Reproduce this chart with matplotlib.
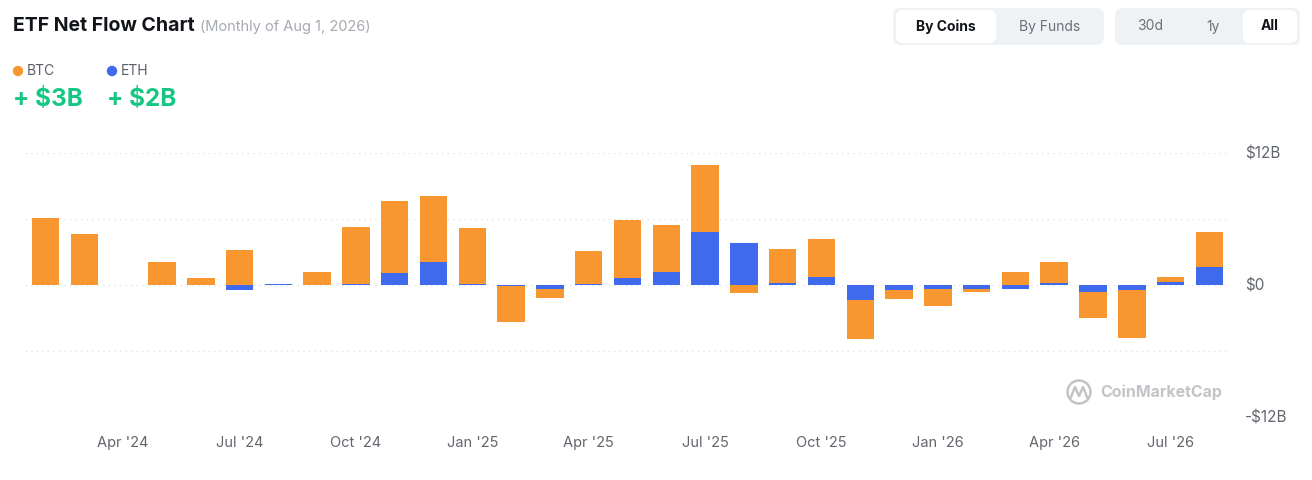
import pandas as pd
import matplotlib
matplotlib.use("Agg")
import matplotlib.pyplot as plt
from matplotlib.patches import FancyBboxPatch, Circle

plt.rcParams['font.family'] = ['Inter', 'DejaVu Sans']

# monthly net flows, $B (Feb '24 .. Aug '26)
months = pd.date_range('2024-02-01', periods=31, freq='MS')
btc = [6.1, 4.6, 0.0, 2.05, 0.6, 3.15, 0.0, 1.15, 5.16, 6.53, 5.99,
       5.07, -3.26, -0.8, 2.96, 5.26, 4.34, 6.09, -0.7, 3.1, 3.43,
       -3.54, -0.76, -1.56, -0.27, 1.16, 1.84, -2.42, -4.31, 0.45, 3.18]
eth = [0.0, 0.0, 0.0, 0.0, 0.0, -0.46, 0.12, 0.0, 0.1, 1.07, 2.06,
       0.1, -0.1, -0.37, 0.1, 0.61, 1.16, 4.86, 3.82, 0.2, 0.76,
       -1.38, -0.49, -0.37, -0.34, -0.34, 0.21, -0.61, -0.49, 0.28, 1.65]
tick_labels = ["Apr '24", "Jul '24", "Oct '24", "Jan '25", "Apr '25", "Jul '25",
               "Oct '25", "Jan '26", "Apr '26", "Jul '26"]
y_ticks = [-12, 0, 12]
y_tick_labels = ["-$12B", "$0", "$12B"]

BTC_C = '#F8972F'
ETH_C = '#3F6AEE'
GREEN = '#16C784'

fig = plt.figure(figsize=(13.12, 4.8), dpi=100)

# chart area
ax = fig.add_axes([25 / 1312, 1 - 417 / 480, 1205 / 1312, 264 / 480])
x = list(range(len(months)))
eth_bottom = [0] * len(x)
btc_bottom = [e if (e * b > 0) else 0 for e, b in zip(eth, btc)]
ax.bar(x, eth, width=0.71, bottom=eth_bottom, color=ETH_C, zorder=3)
ax.bar(x, btc, width=0.71, bottom=btc_bottom, color=BTC_C, zorder=3)

ax.set_xlim(-0.53, len(x) - 0.47)
ax.set_ylim(-12, 12)
for g in [-12, -6, 0, 6, 12]:
    ax.axhline(g, color='#e2e4e8', lw=1, ls=(0, (1, 3)), zorder=1)

tick_pos = [i for i, m in enumerate(months) if m.month in (1, 4, 7, 10)]
ax.set_xticks(tick_pos)
ax.set_xticklabels(tick_labels, fontsize=10.5, color='#62666d')
ax.yaxis.tick_right()
ax.set_yticks(y_ticks)
ax.set_yticklabels(y_tick_labels, fontsize=11, color='#62666d')
ax.tick_params(length=0)
ax.tick_params(axis='x', pad=14)
ax.tick_params(axis='y', pad=11)
for s in ax.spines.values():
    s.set_visible(False)

# header / overlay in pixel coordinates
ov = fig.add_axes([0, 0, 1, 1], zorder=5)
ov.set_xlim(0, 1312)
ov.set_ylim(480, 0)
ov.axis('off')

ov.text(13, 26, "ETF Net Flow Chart", fontsize=14, fontweight='bold',
        color='#111418', va='center', ha='left')
ov.text(200, 27, "(Monthly of Aug 1, 2026)", fontsize=10.5, color='#a6aab1',
        va='center', ha='left')

ov.add_patch(Circle((18, 71), 4.5, color=BTC_C))
ov.text(27, 71, "BTC", fontsize=10, color='#5a5e66', va='center')
ov.add_patch(Circle((112, 71), 4.5, color=ETH_C))
ov.text(121, 71, "ETH", fontsize=10, color='#5a5e66', va='center')
ov.text(13, 100, "+ $3B", fontsize=17.5, fontweight='bold', color=GREEN, va='center')
ov.text(107, 100, "+ $2B", fontsize=17.5, fontweight='bold', color=GREEN, va='center')

# toggle buttons
def pill(x0, y0, w, h, fc, ec='none'):
    ov.add_patch(FancyBboxPatch((x0, y0), w, h, boxstyle="round,pad=0,rounding_size=7",
                                fc=fc, ec=ec, lw=0.8))

pill(893, 8, 211, 37, '#eff2f5')
pill(896, 10, 100, 33, 'white')
ov.text(946, 26.5, "By Coins", fontsize=10, fontweight='bold', color='#111418',
        ha='center', va='center')
ov.text(1050, 26.5, "By Funds", fontsize=10, color='#6b7079', ha='center', va='center')

pill(1115, 8, 185, 37, '#eff2f5')
pill(1243, 10, 54, 33, 'white')
ov.text(1150, 26.5, "30d", fontsize=10, color='#6b7079', ha='center', va='center')
ov.text(1213, 26.5, "1y", fontsize=10, color='#6b7079', ha='center', va='center')
ov.text(1270, 26.5, "All", fontsize=10, fontweight='bold', color='#111418',
        ha='center', va='center')

# watermark
ov.add_patch(Circle((1079, 392), 11.5, fill=False, ec='#c2c4c8', lw=1.8))
ov.plot([1071, 1075, 1079, 1083, 1087], [397, 387, 396, 387, 397],
        color='#c2c4c8', lw=1.8)
ov.text(1100, 392.5, "CoinMarketCap", fontsize=11.5, fontweight='bold',
        color='#c2c4c8', va='center', ha='left')

fig.savefig("out.png", dpi=100, facecolor='white')
